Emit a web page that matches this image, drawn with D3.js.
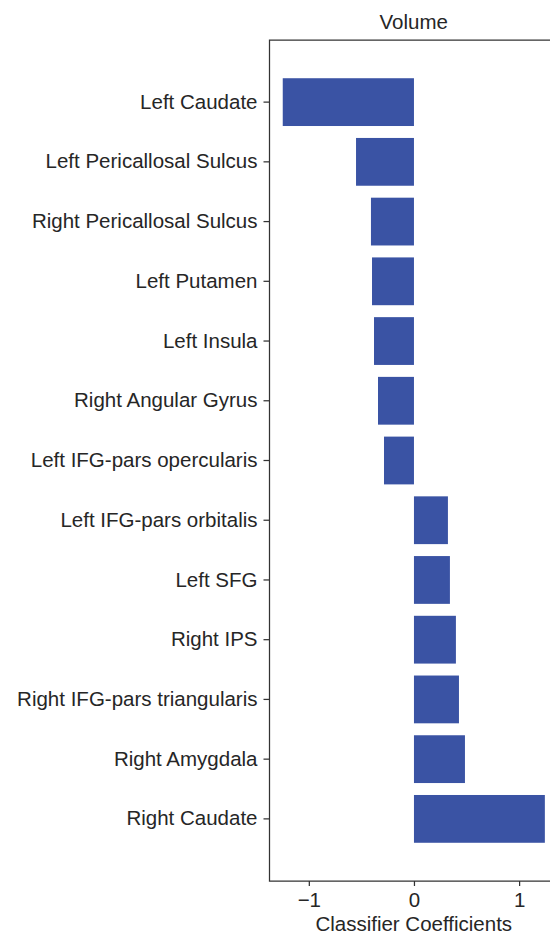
<!DOCTYPE html>
<html>
<head>
<meta charset="utf-8">
<script src="https://cdn.jsdelivr.net/npm/d3@7"></script>
<style>
  html, body { margin: 0; padding: 0; background: #fff; }
  svg { display: block; }
  text { font-family: "Liberation Sans", Arial, Helvetica, sans-serif; fill: #262626; }
</style>
</head>
<body>
<svg id="chart" width="550" height="937"></svg>
<script>
const regions = [
  "Left Caudate",
  "Left Pericallosal Sulcus",
  "Right Pericallosal Sulcus",
  "Left Putamen",
  "Left Insula",
  "Right Angular Gyrus",
  "Left IFG-pars opercularis",
  "Left IFG-pars orbitalis",
  "Left SFG",
  "Right IPS",
  "Right IFG-pars triangularis",
  "Right Amygdala",
  "Right Caudate"
];
const coefficients = [-1.248, -0.551, -0.409, -0.399, -0.380, -0.342, -0.285,
                      0.323, 0.342, 0.399, 0.428, 0.485, 1.245];
const xTicks = [-1, 0, 1];
const xTickLabels = ["\u22121", "0", "1"];
const title = "Volume";
const xLabel = "Classifier Coefficients";

const svg = d3.select("#chart");
const mLeft = 269.5, mRight = 558, mTop = 40, mBottom = 881;
const ink = "#333333";
const barColor = "#3a53a4";

const x = d3.scaleLinear().domain([-1.374, 1.37]).range([mLeft, mRight]);
const y = d3.scaleBand().domain(regions).range([mTop, mBottom])
  .paddingInner(0.2).paddingOuter(0.64);

// bars
svg.append("g").selectAll("rect")
  .data(regions.map((r, i) => ({ r, v: coefficients[i] })))
  .join("rect")
  .attr("x", d => x(Math.min(0, d.v)))
  .attr("width", d => Math.abs(x(d.v) - x(0)))
  .attr("y", d => y(d.r))
  .attr("height", y.bandwidth())
  .attr("fill", barColor);

// x axis
const xAxis = svg.append("g")
  .attr("transform", `translate(0,${mBottom})`)
  .call(d3.axisBottom(x).tickValues(xTicks)
    .tickFormat((d, i) => xTickLabels[i]).tickSize(5).tickPadding(6));
xAxis.select(".domain").remove();
xAxis.selectAll(".tick line").attr("stroke", ink).attr("stroke-width", 1.25);
xAxis.selectAll(".tick text").attr("font-size", 20.5).attr("fill", "#262626")
  .style("font-family", "'Liberation Sans', Arial, sans-serif");

// y axis
const yAxis = svg.append("g")
  .attr("transform", `translate(${mLeft},0)`)
  .call(d3.axisLeft(y).tickSize(6).tickPadding(6));
yAxis.select(".domain").remove();
yAxis.selectAll(".tick line").attr("stroke", ink).attr("stroke-width", 1.25);
yAxis.selectAll(".tick text").attr("font-size", 20.5).attr("fill", "#262626")
  .style("font-family", "'Liberation Sans', Arial, sans-serif");

// spines: left, bottom, top
svg.append("path")
  .attr("d", `M${mRight},${mTop}H${mLeft}V${mBottom}H${mRight}`)
  .attr("fill", "none").attr("stroke", ink).attr("stroke-width", 1.25);

// title
svg.append("text")
  .attr("x", (mLeft + mRight) / 2).attr("y", 29)
  .attr("text-anchor", "middle").attr("font-size", 20.5)
  .text(title);

// x label
svg.append("text")
  .attr("x", (mLeft + mRight) / 2).attr("y", 931)
  .attr("text-anchor", "middle").attr("font-size", 20.5)
  .text(xLabel);
</script>
</body>
</html>
